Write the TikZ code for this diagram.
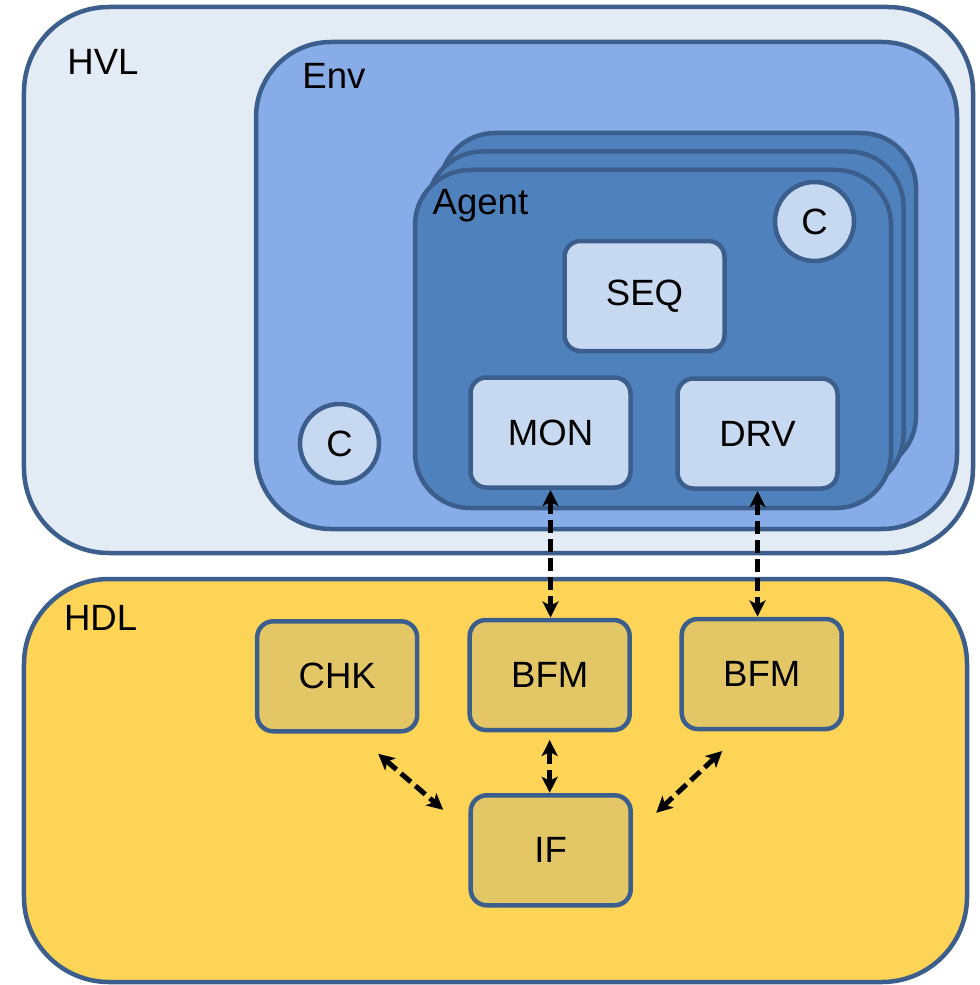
\documentclass[tikz,border=0pt]{standalone}
\usepackage{fontspec}
\setmainfont{Liberation Sans}
\usetikzlibrary{arrows.meta,positioning}
\definecolor{uvmedge}{HTML}{3B5E8C}
\definecolor{hvlfill}{HTML}{E3EBF5}
\definecolor{envfill}{HTML}{87ACE8}
\definecolor{agentfill}{HTML}{4F81BD}
\definecolor{compfill}{HTML}{C6D9F0}
\definecolor{hdlfill}{HTML}{FED457}
\definecolor{rtlfill}{HTML}{E3C766}

\begin{document}
\begin{tikzpicture}[x=1mm,y=-1mm,
   every node/.style={font=\fontsize{10.4}{12}\selectfont},
   frame/.style={draw=uvmedge,line width=0.45mm,inner sep=0pt,outer sep=0pt},
   layer/.style={frame,rounded corners=8.5mm},
   agentbox/.style={frame,fill=agentfill,rounded corners=5.5mm,
                    minimum width=47.6mm,minimum height=33.8mm},
   comp/.style={frame,fill=compfill,rounded corners=1.6mm,
                minimum width=16mm,minimum height=11mm},
   rtl/.style={comp,fill=rtlfill},
   cfg/.style={frame,circle,fill=compfill,minimum size=7.9mm},
   lbl/.style={anchor=base west,inner sep=0pt},
   link/.style={{Stealth[length=1.6mm,width=1.6mm,inset=0.4mm]}-{Stealth[length=1.6mm,width=1.6mm,inset=0.4mm]},
                line width=0.5mm,dash pattern=on 1.3mm off 0.6mm,
                shorten <=0.25mm,shorten >=0.25mm}]
  \useasboundingbox (0,0) rectangle (98,98.5);

  % testbench side
  \node[layer,fill=hvlfill,minimum width=94.9mm,minimum height=54.6mm] (hvl) at (49.85,28.0) {};
  \node[layer,fill=envfill,rounded corners=7.5mm,minimum width=70.1mm,minimum height=48.7mm] (env) at (60.65,28.55) {};
  \node[lbl] (hvllbl) at (6.67,7.5) {HVL};
  \node[lbl] (envlbl) at (30.17,8.83) {Env};

  % stacked agents
  \node[agentbox] (agentc) at (67.8,30.2) {};
  \node[agentbox] (agentb) at (66.55,32.05) {};
  \node[agentbox] (agent) at (65.3,33.9) {};
  \node[lbl] (agentlbl) at (43.2,21.4) {Agent};

  \node[comp] (SEQ) at (64.45,29.6) {SEQ};
  \node[comp] (MON) at (55.05,43.25) {MON};
  \node[comp] (DRV) at (75.75,43.35) {DRV};
  \node[cfg] (cfga) at (81.45,22.15) {C};
  \node[cfg] (cfge) at (33.95,44.35) {C};

  % hdl side
  \node[layer,fill=hdlfill,minimum width=94.3mm,minimum height=40.3mm] (hdl) at (49.55,78.05) {};
  \node[lbl] (hdllbl) at (6.33,63.0) {HDL};

  \node[rtl] (CHK) at (33.72,67.63) {CHK};
  \node[rtl] (BFMa) at (54.97,67.5) {BFM};
  \node[rtl] (BFMb) at (76.17,67.4) {BFM};
  \node[rtl] (IF) at (55.07,85.03) {IF};

  \draw[link] (MON.south) -- (MON.south |- BFMa.north);
  \draw[link] (DRV.south) -- (DRV.south |- BFMb.north);
  \draw[link,shorten <=1mm] (BFMa.south) -- (BFMa.south |- IF.north);
  \draw[link,shorten <=0mm,shorten >=0mm] ([shift={(-3.9,2.25)}]CHK.south east) -- ([shift={(-2.75,1.45)}]IF.north west);
  \draw[link,shorten <=0mm,shorten >=0mm] ([shift={(4.05,2.2)}]BFMb.south west) -- ([shift={(2.55,1.75)}]IF.north east);
\end{tikzpicture}
\end{document}
